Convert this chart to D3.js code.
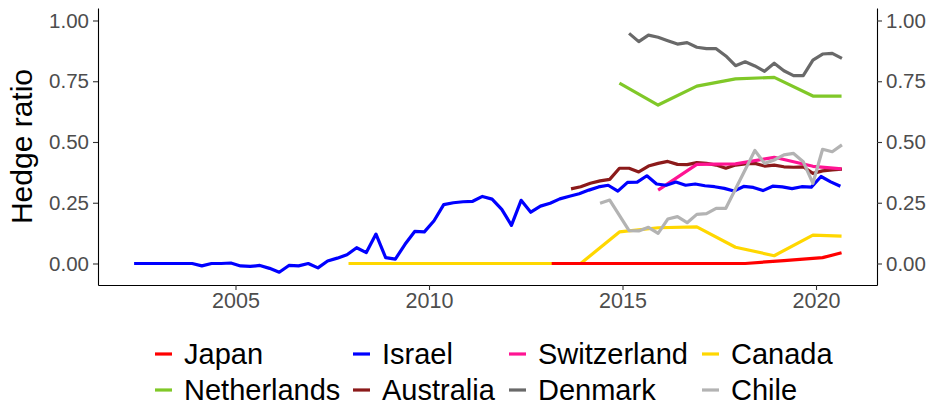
<!DOCTYPE html>
<html><head><meta charset="utf-8">
<script src="https://cdn.jsdelivr.net/npm/d3@7"></script>
<style>body{margin:0;background:#fff}svg{display:block}text{font-family:"Liberation Sans",Arial,sans-serif}</style>
</head><body><svg id="c" width="935" height="408"></svg>
<script>
const countries = ["Japan","Israel","Switzerland","Canada","Netherlands","Australia","Denmark","Chile"];
const colors = ["#FF0000","#0000FF","#FF1493","#FFD700","#80C828","#8B1A1A","#696969","#B3B3B3"];
const xTicks = [2005, 2010, 2015, 2020];
const yTicks = [0, 0.25, 0.5, 0.75, 1.0];

// quarterly series: start (decimal year) and values
const israelStart = 2002.38;
const israelValues = [0,0,0,0,0,0,0,-0.01,0,0,0.002,-0.01,-0.012,-0.008,-0.02,-0.036,-0.008,-0.01,0,-0.018,
  0.01,0.022,0.036,0.065,0.045,0.121,0.024,0.018,0.079,0.132,0.13,0.176,0.242,0.25,0.254,0.256,0.276,0.265,0.223,0.157,
  0.26,0.211,0.236,0.248,0.266,0.277,0.287,0.302,0.315,0.322,0.298,0.334,0.335,0.361,0.327,0.322,0.335,0.322,0.327,0.32,
  0.316,0.309,0.298,0.317,0.313,0.3,0.318,0.315,0.308,0.316,0.314,0.358,0.336,0.318];
const australiaStart = 2013.67;
const australiaValues = [0.307,0.316,0.33,0.34,0.346,0.392,0.392,0.377,0.401,0.412,0.42,0.408,0.407,0.415,0.412,
  0.405,0.392,0.405,0.41,0.412,0.401,0.405,0.398,0.396,0.398,0.371,0.381,0.385,0.388];
const denmarkStart = 2015.17;
const denmarkValues = [0.947,0.913,0.94,0.931,0.917,0.903,0.909,0.89,0.884,0.884,0.854,0.814,0.83,0.813,0.791,
  0.824,0.793,0.773,0.773,0.837,0.862,0.865,0.844];

// irregular series: explicit dates
const japanYears = [2013.17,2014.17,2015.17,2016.17,2017.17,2018.17,2019.17,2020.17,2020.66];
const japanValues = [0,0,0,0,0,0,0.012,0.024,0.044];
const canadaYears = [2007.92,2008.92,2009.92,2010.92,2011.92,2012.92,2013.92,2014.92,2015.92,2016.92,2017.92,2018.92,2019.92,2020.66];
const canadaValues = [0,0,0,0,0,0,0,0.13,0.147,0.151,0.067,0.032,0.117,0.113];
const netherlandsYears = [2014.92,2015.92,2016.92,2017.92,2018.92,2019.92,2020.66];
const netherlandsValues = [0.742,0.652,0.73,0.76,0.766,0.689,0.689];
const switzerlandYears = [2015.92,2016.92,2017.92,2018.92,2019.92,2020.66];
const switzerlandValues = [0.302,0.408,0.41,0.437,0.40,0.389];
const chileYears = [2014.42,2014.67,2015.17,2015.42,2015.67,2015.92,2016.17,2016.42,2016.67,2016.92,2017.17,2017.42,2017.67,
  2018.42,2018.67,2018.92,2019.17,2019.42,2019.67,2019.92,2020.17,2020.42,2020.67];
const chileValues = [0.248,0.261,0.135,0.134,0.149,0.124,0.183,0.193,0.168,0.202,0.205,0.227,0.227,
  0.465,0.412,0.426,0.447,0.453,0.419,0.33,0.47,0.46,0.488];

const quarterly = (start, vals) => vals.map((v,i) => [start + i*0.25, v]);
const paired = (ys, vals) => vals.map((v,i) => [ys[i], v]);
const seriesData = {
  Japan: paired(japanYears, japanValues),
  Israel: quarterly(israelStart, israelValues),
  Switzerland: paired(switzerlandYears, switzerlandValues),
  Canada: paired(canadaYears, canadaValues),
  Netherlands: paired(netherlandsYears, netherlandsValues),
  Australia: quarterly(australiaStart, australiaValues),
  Denmark: quarterly(denmarkStart, denmarkValues),
  Chile: paired(chileYears, chileValues)
};
const drawOrder = ["Canada","Japan","Netherlands","Denmark","Australia","Switzerland","Israel","Chile"];

const L = 98, R = 877, T = 8, B = 285;
const svg = d3.select("#c");
const x = d3.scaleLinear().domain([2001.447, 2021.576]).range([L, R]);
const y = d3.scaleLinear().domain([-0.0885, 1.0514]).range([B, T]);
const color = d3.scaleOrdinal().domain(countries).range(colors);

const line = d3.line().x(d => x(d[0])).y(d => y(d[1]));
drawOrder.forEach(c => {
  svg.append("path").datum(seriesData[c]).attr("d", line)
    .attr("fill","none").attr("stroke", color(c)).attr("stroke-width", 3.2)
    .attr("stroke-linejoin","round").attr("stroke-linecap","butt");
});

const fmt = d3.format(".2f");
const styleAxis = size => g => {
  g.select(".domain").attr("stroke","#000").attr("stroke-width",1.1);
  g.selectAll(".tick line").attr("stroke","#333").attr("stroke-width",1.1);
  g.selectAll(".tick text").attr("fill","#4D4D4D").style("font-size",size)
    .style("font-family","'Liberation Sans',Arial,sans-serif");
};
svg.append("g").attr("transform",`translate(${L},0)`)
  .call(d3.axisLeft(y).tickValues(yTicks).tickFormat(fmt).tickSize(5).tickPadding(4).tickSizeOuter(0))
  .call(styleAxis("20.5px"));
svg.append("g").attr("transform",`translate(${R},0)`)
  .call(d3.axisRight(y).tickValues(yTicks).tickFormat(fmt).tickSize(5).tickPadding(4).tickSizeOuter(0))
  .call(styleAxis("20.5px"));
svg.append("g").attr("transform",`translate(0,${B})`)
  .call(d3.axisBottom(x).tickValues(xTicks).tickFormat(d3.format("d")).tickSize(5).tickPadding(3).tickSizeOuter(0))
  .call(styleAxis("21.5px"));

svg.append("text").attr("transform",`translate(32,${(T+B)/2}) rotate(-90)`)
  .attr("text-anchor","middle").style("font-size","30px").attr("fill","#000").text("Hedge ratio");

// legend
const colX = [155, 353, 509, 702];
const rowY = [354, 390];
countries.forEach((c,i) => {
  const cx = colX[i % 4], cy = rowY[Math.floor(i/4)];
  svg.append("line").attr("x1",cx).attr("x2",cx+17).attr("y1",cy).attr("y2",cy)
    .attr("stroke",color(c)).attr("stroke-width",3.2);
  svg.append("text").attr("x",cx+29).attr("y",cy).attr("dy","0.36em")
    .style("font-size","29px").attr("fill","#000").text(c);
});
</script></body></html>
